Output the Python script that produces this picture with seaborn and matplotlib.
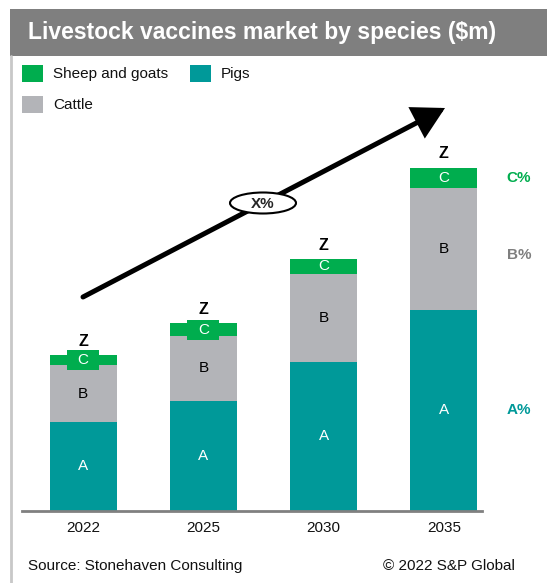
import matplotlib
matplotlib.use("Agg")
import matplotlib.pyplot as plt
from matplotlib.patches import Rectangle, Ellipse, FancyArrowPatch
import seaborn as sns
import pandas as pd

# Market values by species ($m, indexed units)
years = ["2022", "2025", "2030", "2035"]
pigs = [89, 110, 149, 201]
cattle = [57, 65, 88, 122]
sheep_goats = [10, 13, 15, 20]

seg_labels = ["A", "B", "C"]
total_label = "Z"
growth_label = "X%"
share_labels = ["A%", "B%", "C%"]

GREEN = "#00ad4e"
TEAL = "#009999"
GREY = "#b3b4b8"
BANNER = "#7f7f7f"

sns.set_theme(style="white")
plt.rcParams["font.family"] = ["Liberation Sans", "DejaVu Sans"]

W, H = 547, 583
fig = plt.figure(figsize=(W / 100, H / 100), dpi=100)

def fx(px):
    return px / W

def fy(py):
    return 1 - py / H

# Title banner and left frame line
fig.patches.append(Rectangle((fx(10), fy(56)), 1 - fx(10), fy(9) - fy(56),
                             transform=fig.transFigure, facecolor=BANNER,
                             edgecolor="none", zorder=0))
fig.lines.append(plt.Line2D([fx(10.5), fx(10.5)], [fy(56), 0],
                            transform=fig.transFigure, color="#c8c8c8", lw=2))
fig.text(fx(28), fy(33), "Livestock vaccines market by species ($m)",
         color="white", fontsize=16.5, fontweight="bold", va="center",
         ha="left")

# Legend
legend_items = [("Sheep and goats", GREEN, 22, 74), ("Pigs", TEAL, 190, 74),
                ("Cattle", GREY, 22, 105)]
for name, col, x0, yc in legend_items:
    fig.patches.append(Rectangle((fx(x0), fy(yc + 8)), fx(21), fy(0) - fy(17),
                                 transform=fig.transFigure, facecolor=col,
                                 edgecolor="none"))
    fig.text(fx(x0 + 31), fy(yc), name, fontsize=11, va="center", ha="left",
             color="#111111")

# Stacked bars (axes height is 451 px, so one data unit equals one pixel)
ax = fig.add_axes([fx(22), fy(511), fx(460), fy(60) - fy(511)])
df = pd.DataFrame({"year": years, "pigs": pigs, "cattle": cattle,
                   "sheep": sheep_goats})
df["pc"] = df["pigs"] + df["cattle"]
df["total"] = df["pc"] + df["sheep"]

bw = 67 / 120
sns.barplot(data=df, x="year", y="total", color=GREEN, width=bw,
            saturation=1, ax=ax, linewidth=0)
sns.barplot(data=df, x="year", y="pc", color=GREY, width=bw,
            saturation=1, ax=ax, linewidth=0)
sns.barplot(data=df, x="year", y="pigs", color=TEAL, width=bw,
            saturation=1, ax=ax, linewidth=0)

ax.set_xlim(-61 / 120, 3 + 38 / 120)
ax.set_ylim(0, 451)
ax.set_xlabel("")
ax.set_ylabel("")
ax.set_yticks([])
ax.tick_params(axis="x", length=0, labelsize=11, pad=7, colors="#111111")
for s in ["top", "right", "left"]:
    ax.spines[s].set_visible(False)
ax.spines["bottom"].set_color("#808080")
ax.spines["bottom"].set_linewidth(2)

for i in range(len(years)):
    a, b, c = pigs[i], cattle[i], sheep_goats[i]
    ax.text(i, a / 2, seg_labels[0], color="white", fontsize=11,
            ha="center", va="center")
    ax.text(i, a + b / 2, seg_labels[1], color="black", fontsize=11,
            ha="center", va="center")
    yc = a + b + c / 2
    if c < 15:
        # thin segment: label sits on a wider green tab
        ax.add_patch(Rectangle((i - 16 / 120, yc - 10), 32 / 120, 20,
                               facecolor=GREEN, edgecolor="none", zorder=3))
    ax.text(i, yc, seg_labels[2], color="white", fontsize=11,
            ha="center", va="center", zorder=4)
    ax.text(i, a + b + c + 14, total_label, color="black", fontsize=11.5,
            fontweight="bold", ha="center", va="center")

# Share labels to the right of the last bar
n = len(years) - 1
a, b, c = pigs[n], cattle[n], sheep_goats[n]
share_pos = [a / 2, a + b * 0.45, a + b + c / 2]
share_cols = [TEAL, "#7f7f7f", GREEN]
for lbl, yv, col in zip(share_labels, share_pos, share_cols):
    ax.text(3 + 75 / 120, yv, lbl, color=col, fontsize=11, fontweight="bold",
            ha="center", va="center")

# Growth arrow with rate badge
fig.add_artist(FancyArrowPatch(
    (83, H - 297), (445, H - 108), transform=None,
    arrowstyle="-|>,head_length=6.5,head_width=3.6", mutation_scale=2.7,
    color="black", lw=3.6, shrinkA=0, shrinkB=0, joinstyle="miter"))
el = Ellipse((263, H - 203), 66, 21, transform=None, facecolor="white",
             edgecolor="black", lw=1.5)
fig.add_artist(el)
fig.text(fx(263), fy(204), growth_label, fontsize=11, fontweight="bold",
         ha="center", va="center")

# Footer
fig.text(fx(28), fy(566), "Source: Stonehaven Consulting", fontsize=11,
         ha="left", va="center", color="#111111")
fig.text(fx(515), fy(566), "\u00a9 2022 S&P Global", fontsize=11,
         ha="right", va="center", color="#111111")

fig.savefig("out.png", dpi=100)
